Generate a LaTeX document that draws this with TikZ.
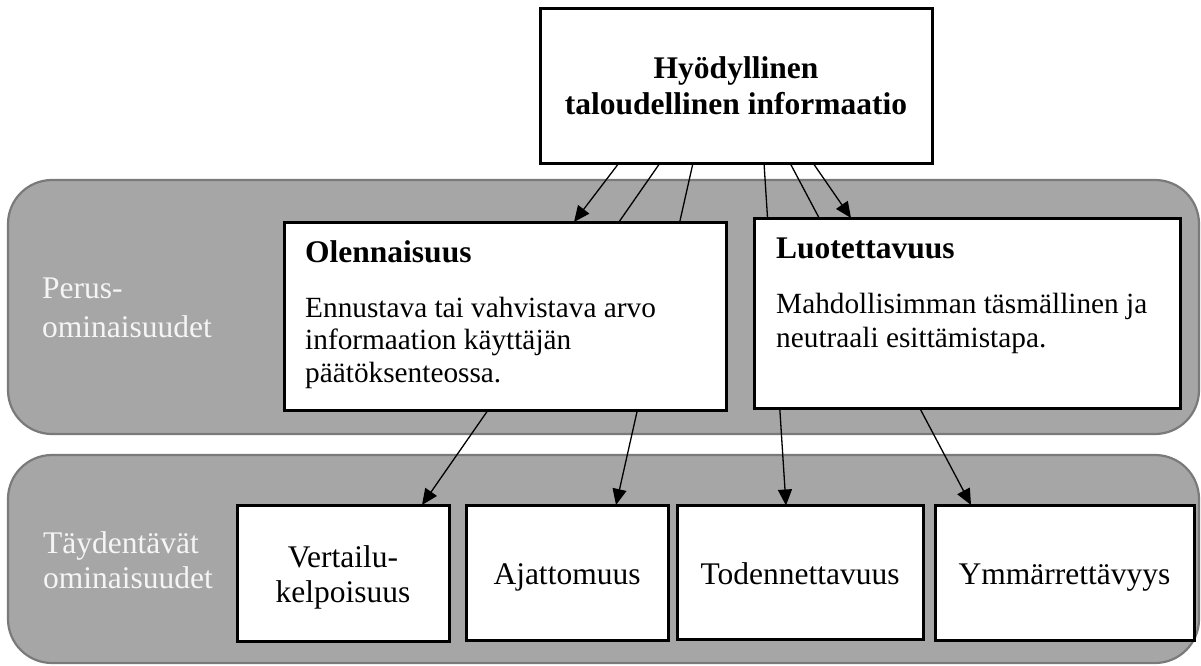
\documentclass[tikz,border=0pt]{standalone}
\usepackage{fontspec}
\setmainfont{Liberation Serif}
\usetikzlibrary{arrows.meta}

\definecolor{bandfill}{RGB}{166,166,166}
\definecolor{bandedge}{RGB}{122,122,122}
\definecolor{labeltext}{RGB}{245,245,245}

\tikzset{
  band/.style={draw=bandedge, fill=bandfill, line width=2.2pt, rounded corners=44pt},
  whitebox/.style={draw=black, fill=white, line width=3pt, inner sep=0pt, outer sep=0pt},
  arr/.style={line width=1.3pt, -{Triangle[length=16pt,width=14pt]}},
  bigfont/.style={font=\fontsize{31.5}{35}\selectfont},
  bodyfont/.style={font=\fontsize{29.3}{32.5}\selectfont},
  boldfont/.style={font=\fontsize{31.5}{36}\selectfont\bfseries},
  sidelabel/.style={text=labeltext, anchor=base west, align=left, inner sep=0pt},
  headtext/.style={anchor=base west, inner sep=0pt, boldfont},
  paratext/.style={anchor=base west, inner sep=0pt, align=left, bodyfont},
  boxtext/.style={anchor=base, inner sep=0pt, align=center, bigfont},
}

\begin{document}
\begin{tikzpicture}[x=1pt, y=-1pt]
\useasboundingbox (0,0) rectangle (1201,666);

% grey bands
\draw[band] (8,180) rectangle (1199,434);
\draw[band] (8,455) rectangle (1199,663);

% band labels (a node's base is the baseline of its last line)
\node[sidelabel, font=\fontsize{31.5}{38.5}\selectfont] (perus) at (42,337) {Perus-\\ominaisuudet};
\node[sidelabel, font=\fontsize{31.5}{35}\selectfont] (taydent) at (43,588) {Täydentävät\\ominaisuudet};

% secondary qualities
\node[whitebox, minimum width=212pt, minimum height=136pt] (ver) at (343,573) {};
\node[whitebox, minimum width=202pt, minimum height=135pt] (aja) at (567,572.5) {};
\node[whitebox, minimum width=246pt, minimum height=134pt] (tod) at (800,572.5) {};
\node[whitebox, minimum width=259pt, minimum height=135pt] (ymm) at (1064.5,572.5) {};

\node[boxtext] (vertext) at ([yshift=-29pt]ver.center) {Vertailu-\\kelpoisuus};
\node[boxtext] (ajatext) at ([yshift=-11.5pt]aja.center) {Ajattomuus};
\node[boxtext] (todtext) at ([yshift=-11.5pt]tod.center) {Todennettavuus};
\node[boxtext] (ymmtext) at ([yshift=-11.5pt]ymm.center) {Ymmärrettävyys};

% the top box
\node[whitebox, minimum width=392pt, minimum height=154pt] (top) at (736,86) {};
\node[boldfont, align=center, anchor=base, inner sep=0pt] (toptext) at (736,115) {Hyödyllinen\\taloudellinen informaatio};

% long arrows running behind the primary boxes
\draw[arr] ([xshift=120pt]top.south west) -- ([xshift=185pt]ver.north west);
\draw[arr] ([xshift=153pt]top.south west) -- ([xshift=150pt]aja.north west);
\draw[arr] ([xshift=224pt]top.south west) -- ([xshift=109pt]tod.north west);
\draw[arr] ([xshift=250pt]top.south west) -- ([xshift=36pt]ymm.north west);

% primary qualities
\node[whitebox, minimum width=442pt, minimum height=188pt] (oln) at (505,316) {};
\node[whitebox, minimum width=426pt, minimum height=190pt] (luo) at (967,313) {};

\node[headtext] (olnhead) at (305,262) {Olennaisuus};
\node[paratext] (olnbody) at (305,382) {Ennustava tai vahvistava arvo\\informaation käyttäjän\\päätöksenteossa.};

\node[headtext] (luohead) at (776,258) {Luotettavuus};
\node[paratext, font=\fontsize{29.3}{34}\selectfont] (luobody) at (776,347) {Mahdollisimman täsmällinen ja\\neutraali esittämistapa.};

% direct arrows to the primary boxes
\draw[arr] ([xshift=79pt]top.south west) -- ([xshift=290pt]oln.north west);
\draw[arr] ([xshift=273pt]top.south west) -- ([xshift=97pt]luo.north west);
\end{tikzpicture}
\end{document}
